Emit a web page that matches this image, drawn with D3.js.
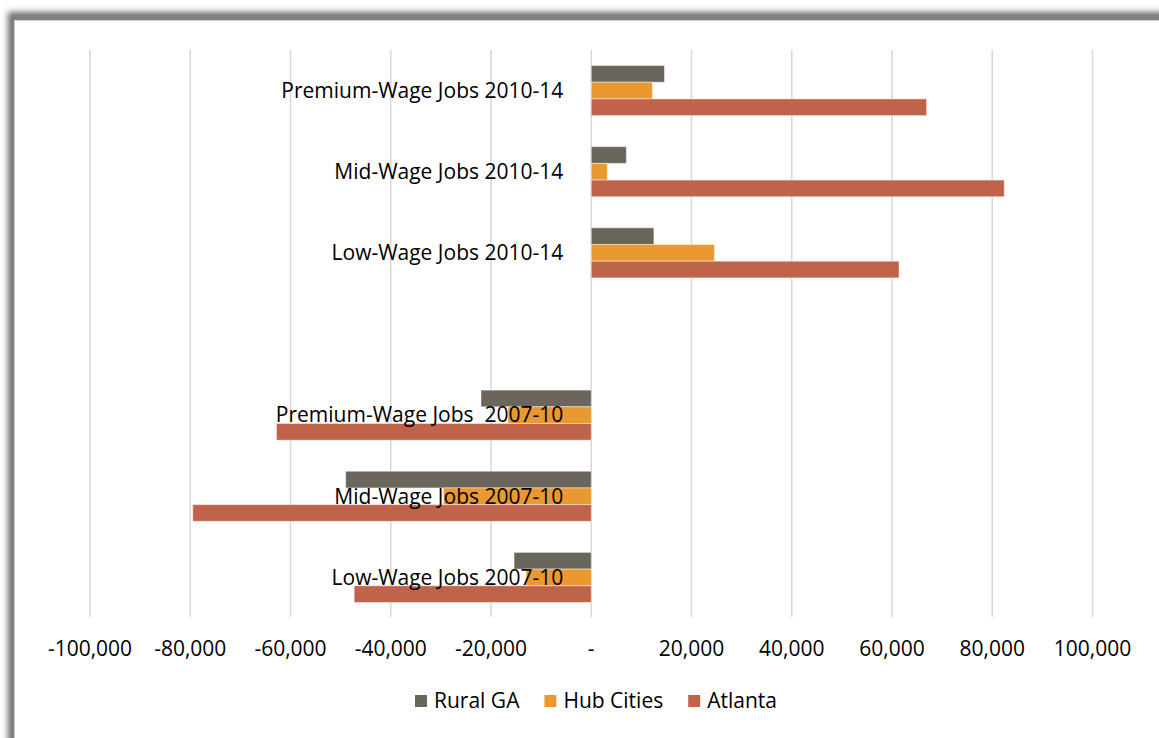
<!DOCTYPE html>
<html>
<head>
<meta charset="utf-8">
<script src="https://cdn.jsdelivr.net/npm/d3@7"></script>
<style>
  body { margin: 0; background: #fff; }
  text { font-family: "Open Sans", "Liberation Sans", sans-serif; fill: #000; }
</style>
</head>
<body>
<div id="chart"></div>
<script>
// categories top to bottom (one blank slot between the two periods)
var categories = [
  "Premium-Wage Jobs 2010-14",
  "Mid-Wage Jobs 2010-14",
  "Low-Wage Jobs 2010-14",
  " ",
  "Premium-Wage Jobs  2007-10",
  "Mid-Wage Jobs 2007-10",
  "Low-Wage Jobs 2007-10"
];
var series = ["Rural GA", "Hub Cities", "Atlanta"];
var colors = ["#6a665b", "#e9992f", "#c0634b"];

var ruralGA   = [14600, 7000, 12500, null, -22000, -49000, -15400];
var hubCities = [12200, 3200, 24600, null, -16600, -29500, -13000];
var atlanta   = [66900, 82400, 61400, null, -62800, -79500, -47300];

var tickValues = [-100000, -80000, -60000, -40000, -20000, 0, 20000, 40000, 60000, 80000, 100000];

var width = 1159, height = 738;

var svg = d3.select("#chart").append("svg")
  .attr("width", width)
  .attr("height", height);

// frame with soft shadow
var defs = svg.append("defs");
var blur = defs.append("filter").attr("id", "blur")
  .attr("x", "-5%").attr("y", "-5%").attr("width", "110%").attr("height", "110%");
blur.append("feGaussianBlur").attr("stdDeviation", 3);

svg.append("rect")
  .attr("x", 8).attr("y", 12)
  .attr("width", 1200).attr("height", 800)
  .attr("fill", "#6a6a6a")
  .attr("filter", "url(#blur)");
svg.append("rect")
  .attr("x", 11).attr("y", 15)
  .attr("width", 1200).attr("height", 800)
  .attr("fill", "#808080");
svg.append("rect")
  .attr("x", 14).attr("y", 20)
  .attr("width", 1200).attr("height", 800)
  .attr("fill", "#cfcfcf");
svg.append("rect")
  .attr("x", 15).attr("y", 21)
  .attr("width", 1200).attr("height", 800)
  .attr("fill", "#fff");

var x = d3.scaleLinear()
  .domain([-100000, 100000])
  .range([90, 1092.5]);

var y0 = d3.scaleBand()
  .domain(categories)
  .range([50, 618])
  .paddingInner(0.383)
  .paddingOuter(0.1915);

var y1 = d3.scaleBand()
  .domain(series)
  .range([0, y0.bandwidth()]);

// gridlines
svg.append("g").selectAll("line")
  .data(tickValues)
  .enter().append("line")
  .attr("x1", function(d) { return x(d); })
  .attr("x2", function(d) { return x(d); })
  .attr("y1", 50)
  .attr("y2", 617)
  .attr("stroke", "#d9d9d9")
  .attr("stroke-width", 1.6);

// bars
var values = [ruralGA, hubCities, atlanta];
var rows = [];
series.forEach(function(s, si) {
  categories.forEach(function(c, ci) {
    if (values[si][ci] != null) {
      rows.push({cat: c, series: s, color: colors[si], value: values[si][ci]});
    }
  });
});

svg.append("g").selectAll("rect")
  .data(rows)
  .enter().append("rect")
  .attr("x", function(d) { return x(Math.min(0, d.value)); })
  .attr("y", function(d) { return y0(d.cat) + y1(d.series); })
  .attr("width", function(d) { return Math.abs(x(d.value) - x(0)); })
  .attr("height", y1.bandwidth())
  .attr("fill", function(d) { return d.color; })
  .attr("stroke", "#fff")
  .attr("stroke-opacity", 0.45)
  .attr("stroke-width", 1);

// category labels next to the zero axis
svg.append("g").selectAll("text")
  .data(categories)
  .enter().append("text")
  .attr("x", x(0) - 28)
  .attr("y", function(d) { return y0(d) + y0.bandwidth() / 2; })
  .attr("dy", "0.35em")
  .attr("text-anchor", "end")
  .style("font-size", "21px")
  .style("white-space", "pre")
  .text(function(d) { return d; });

// x axis tick labels
var fmt = d3.format(",");
svg.append("g").selectAll("text")
  .data(tickValues)
  .enter().append("text")
  .attr("x", function(d) { return x(d); })
  .attr("y", 649)
  .attr("dy", "0.35em")
  .attr("text-anchor", "middle")
  .style("font-size", "21px")
  .text(function(d) { return d === 0 ? "-" : fmt(d).replace("\u2212", "-"); });

// legend
var legend = svg.append("g");
var items = legend.selectAll("g")
  .data(series)
  .enter().append("g");
items.append("rect")
  .attr("width", 12)
  .attr("height", 12)
  .attr("y", 695)
  .attr("fill", function(d, i) { return colors[i]; });
items.append("text")
  .attr("x", 19)
  .attr("y", 701)
  .attr("dy", "0.35em")
  .style("font-size", "21px")
  .text(function(d) { return d; });

var pos = 0;
items.each(function() {
  var w = this.querySelector("text").getComputedTextLength();
  d3.select(this).attr("transform", "translate(" + pos + ",0)");
  pos += 19 + w + 25;
});
var total = pos - 25;
legend.attr("transform", "translate(" + (596 - total / 2) + ",0)");
</script>
</body>
</html>
